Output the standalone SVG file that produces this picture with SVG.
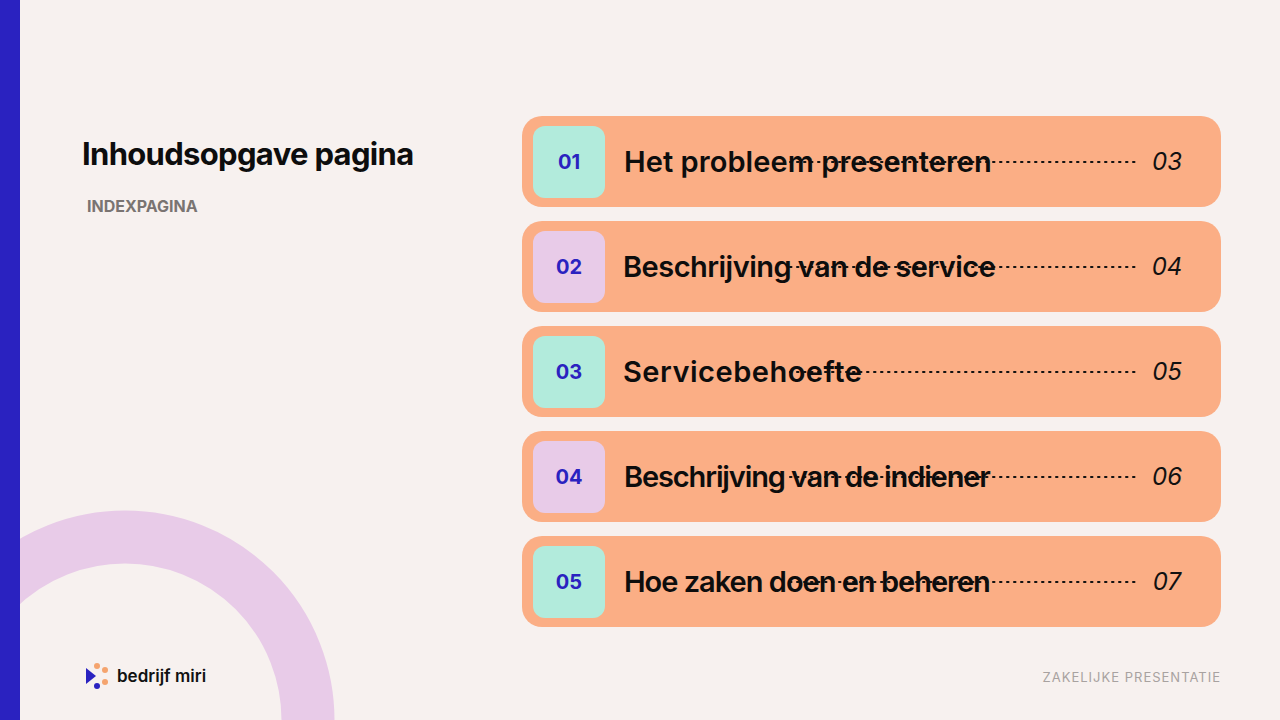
<svg xmlns="http://www.w3.org/2000/svg" width="1280" height="720" viewBox="0 0 1280 720">
<style>
.row{fill:#fbae85}
.t{font-family:Inter,"Liberation Sans",sans-serif;font-weight:600;font-size:29px;fill:#0d0d0d;letter-spacing:-0.8px}
.n{font-family:Inter,"Liberation Sans",sans-serif;font-weight:700;font-size:20px;fill:#2a22c0;text-anchor:middle}
.p{font-family:Inter,"Liberation Sans",sans-serif;font-style:italic;font-size:24px;fill:#111;text-anchor:middle}
.dot{stroke:#111;stroke-width:2;stroke-dasharray:1.5 5.5;stroke-linecap:round}
</style>
<rect width="1280" height="720" fill="#f7f1ef"/>
<circle cx="125" cy="720" r="183" fill="none" stroke="#e8cbe8" stroke-width="53"/>
<rect width="20" height="720" fill="#2a22c0"/>
<text x="82" y="165" textLength="331" font-family="Inter,'Liberation Sans',sans-serif" font-weight="700" font-size="31" letter-spacing="-1.2" fill="#0d0d0d">Inhoudsopgave pagina</text>
<text x="87" y="212" font-family="Inter,'Liberation Sans',sans-serif" font-weight="700" font-size="16" fill="#7a7472">INDEXPAGINA</text>
<g id="logo">
<circle cx="97" cy="666" r="3" fill="#f5a46e"/>
<circle cx="97" cy="686" r="3" fill="#2a22c0"/>
<circle cx="105" cy="670" r="3" fill="#f5a46e"/>
<circle cx="105" cy="682" r="3" fill="#f5a46e"/>
<path d="M86 668 L96 676 L86 684 Z" fill="#2a22c0"/>
<text x="117" y="682" font-family="Inter,'Liberation Sans',sans-serif" font-weight="600" font-size="17" fill="#111">bedrijf miri</text>
</g>
<text x="1221" y="682" text-anchor="end" font-family="Inter,'Liberation Sans',sans-serif" font-size="13" letter-spacing="1" fill="#a8a2a0">ZAKELIJKE PRESENTATIE</text>
<g id="connectors"></g>
<g id="row1"><rect class="row" x="522" y="116" width="699" height="91" rx="20"/><rect x="533" y="126" width="72" height="72" rx="12" fill="#b2ebdc"/><text class="n" x="569" y="169">01</text><line class="dot" x1="790" y1="162" x2="1137" y2="162"/><text class="t" x="624" y="172" textLength="367">Het probleem presenteren</text><text class="p" x="1167" y="170">03</text></g>
<g id="row2"><rect class="row" x="522" y="221" width="699" height="91" rx="20"/><rect x="533" y="231" width="72" height="72" rx="12" fill="#e8cbe8"/><text class="n" x="569" y="274">02</text><line class="dot" x1="790" y1="267" x2="1137" y2="267"/><text class="t" x="623" y="277" textLength="372">Beschrijving van de service</text><text class="p" x="1167" y="275">04</text></g>
<g id="row3"><rect class="row" x="522" y="326" width="699" height="91" rx="20"/><rect x="533" y="336" width="72" height="72" rx="12" fill="#b2ebdc"/><text class="n" x="569" y="379">03</text><line class="dot" x1="790" y1="372" x2="1137" y2="372"/><text class="t" x="623" y="382" textLength="238">Servicebehoefte</text><text class="p" x="1167" y="380">05</text></g>
<g id="row4"><rect class="row" x="522" y="431" width="699" height="91" rx="20"/><rect x="533" y="441" width="72" height="72" rx="12" fill="#e8cbe8"/><text class="n" x="569" y="484">04</text><line class="dot" x1="790" y1="477" x2="1137" y2="477"/><text class="t" x="624" y="487" textLength="366">Beschrijving van de indiener</text><text class="p" x="1167" y="485">06</text></g>
<g id="row5"><rect class="row" x="522" y="536" width="699" height="91" rx="20"/><rect x="533" y="546" width="72" height="72" rx="12" fill="#b2ebdc"/><text class="n" x="569" y="589">05</text><line class="dot" x1="790" y1="582" x2="1137" y2="582"/><text class="t" x="624" y="592" textLength="366">Hoe zaken doen en beheren</text><text class="p" x="1167" y="590">07</text></g>
</svg>
